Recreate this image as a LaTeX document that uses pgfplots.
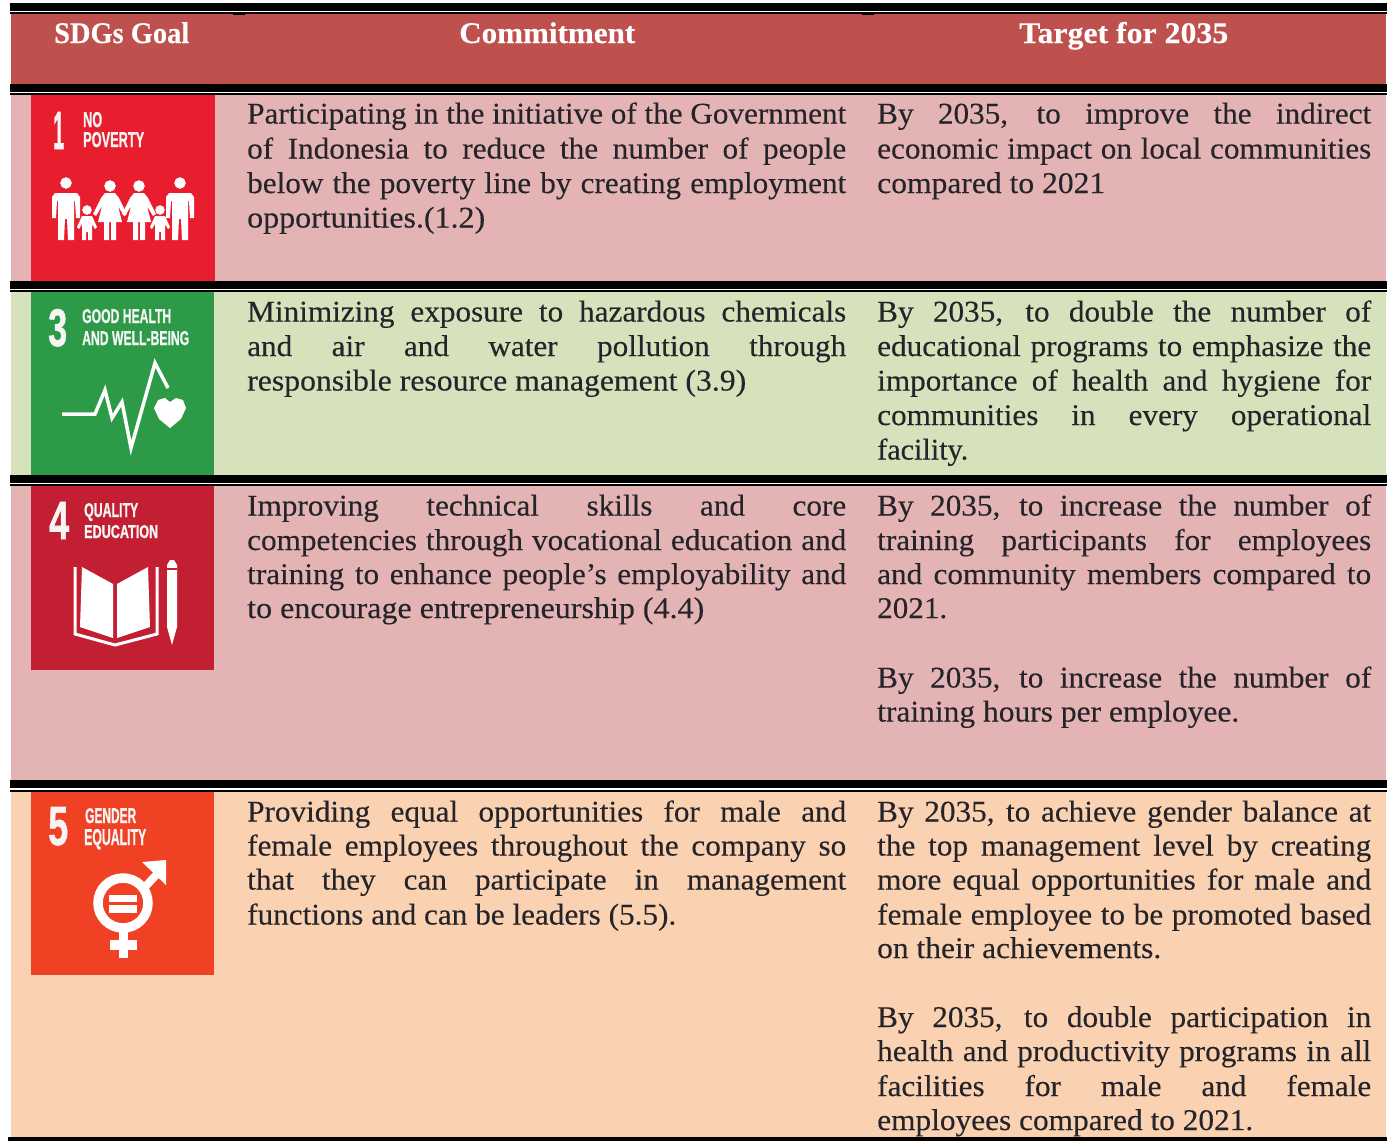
\documentclass[border=0pt]{standalone}
\usepackage{graphicx}
\usepackage{fontspec}
\setmainfont[FakeStretch=1.04,FakeBold=0.2]{Liberation Serif}
\newfontfamily\iconfont[FakeBold=1.2]{Liberation Sans}
\usepackage{pgfplots}
\pgfplotsset{compat=1.18}
\definecolor{hdr}{HTML}{BE514E}
\definecolor{rowpink}{HTML}{E3B4B3}
\definecolor{rowgreen}{HTML}{D6E2BB}
\definecolor{rowpeach}{HTML}{FBD2B1}
\definecolor{icored}{HTML}{E81D2D}
\definecolor{icogreen}{HTML}{2D9A47}
\definecolor{icoedu}{HTML}{C31F33}
\definecolor{icogen}{HTML}{F04124}
\definecolor{bodytxt}{HTML}{24242A}
% rectangle through the axis
\newcommand{\R}[5]{\addplot[fill=#1,draw=none] coordinates {(#2,#3)(#4,#3)(#4,#5)(#2,#5)} --cycle;}
% justified line: x0, x1, baseline, text
\newcommand{\J}[4]{\node[anchor=base west,inner sep=0pt,text=bodytxt,font=\fontsize{30}{34}\selectfont] at (axis cs:#1,#3) {\makebox[\dimexpr#2pt-#1pt\relax][s]{#4}};}
% fitted line: x0, x1, baseline, text
\newcommand{\F}[4]{\node[anchor=base west,inner sep=0pt,text=bodytxt,font=\fontsize{30}{34}\selectfont] at (axis cs:#1,#3) {\resizebox{\dimexpr#2pt-#1pt\relax}{\height}{#4}};}
% header
\newcommand{\HD}[4]{\node[anchor=base west,inner sep=0pt,text=white,font=\fontsize{30}{34}\selectfont\bfseries] at (axis cs:#1,#3) {\resizebox{\dimexpr#2pt-#1pt\relax}{\height}{#4}};}
% icon text: x0,x1,ytop,ybase,text
\newcommand{\IT}[5]{\node[anchor=base west,inner sep=0pt,text=white!92!gray] at (axis cs:#1,#4) {\resizebox{\dimexpr#2pt-#1pt\relax}{\dimexpr#4pt-#3pt\relax}{\iconfont\bfseries #5}};}
\newcommand{\Man}[1]{\addplot[fill=white,draw=none,xshift=#1pt] coordinates {(-11,193)(11,193)(14,197)(14,218)(10,218)(9,201)(8,201)(8,240)(2,240)(1,219)(-1,219)(-2,240)(-8,240)(-8,201)(-9,201)(-10,218)(-14,218)(-14,197)} --cycle;}
\newcommand{\Wom}[1]{\addplot[fill=white,draw=none,xshift=#1pt] coordinates {(-5,193)(5,193)(9,198)(17,214)(14,216)(8,206)(12,222)(6,222)(6,240)(1,240)(1,222)(-1,222)(-1,240)(-6,240)(-6,222)(-12,222)(-8,206)(-14,216)(-17,214)(-9,198)} --cycle;}
\newcommand{\Kid}[1]{\addplot[fill=white,draw=none,xshift=#1pt] coordinates {(-5,216)(5,216)(10,227)(8,229)(5,224)(5,240)(1,240)(1,232)(-1,232)(-1,240)(-5,240)(-5,224)(-8,229)(-10,227)} --cycle;}
\begin{document}
\begin{tikzpicture}
\begin{axis}[scale only axis,width=1393pt,height=1141pt,
  xmin=0,xmax=1393,ymin=0,ymax=1141,y dir=reverse,hide axis,clip=false]
% page
\R{white}{0}{0}{1393}{1141}
% fills
\R{hdr}{11}{14}{1386}{84}
\R{rowpink}{11}{95}{1386}{281}
\R{rowgreen}{11}{292}{1386}{475}
\R{rowpink}{11}{486}{1386}{780}
\R{rowpeach}{11}{792}{1386}{1137}
% rules
\R{black}{10}{3}{1387}{11}
\R{black}{10}{12}{1387}{14}
\R{black}{233}{14}{245}{15}
\R{black}{862}{14}{874}{15}
\R{black}{10}{84}{1387}{92}
\R{black}{10}{93}{1387}{95}
\R{black}{10}{281}{1387}{289}
\R{black}{10}{290}{1387}{292}
\R{black}{10}{475}{1387}{483}
\R{black}{10}{484}{1387}{486}
\R{black}{10}{780}{1387}{788}
\R{black}{10}{790}{1387}{792}
\R{black}{8}{1137}{1387}{1141}
% icon 1
\R{icored}{31}{95}{215}{281}
\IT{53}{64}{112}{149}{1}
\IT{83}{102}{112}{127}{NO}
\IT{83}{144}{132}{147}{POVERTY}
\addplot[only marks,mark=*,mark size=5.5pt,white,mark options={draw=none,fill=white}] coordinates {(66,183)(110,186)(139,186)(180,183)};
\addplot[only marks,mark=*,mark size=4.5pt,white,mark options={draw=none,fill=white}] coordinates {(87,210)(160,210)};
\Man{66}
\Kid{87}
\Wom{110}
\Wom{139}
\Kid{160}
\Man{180}
% icon 2
\R{icogreen}{31}{292}{214}{475}
\IT{48}{67}{309}{346}{3}
\IT{82}{171}{309}{323}{GOOD HEALTH}
\IT{82}{189}{331}{345}{AND WELL-BEING}
\addplot[white,line width=3.5pt,miter limit=20] coordinates {(62,414)(95,414)(105,390)(112,418)(122,402)(131,448)(155,363)(168,388)};
\addplot[fill=white,draw=none] coordinates {(154,408)(158,400)(165,398)(170,402)(176,398)(183,400)(186,408)(181,419)(170,428)(159,419)} --cycle;
% icon 3
\R{icoedu}{31}{486}{214}{670}
\IT{49}{69}{502}{539}{4}
\IT{84}{138}{503}{517}{QUALITY}
\IT{84}{158}{525}{538}{EDUCATION}
\addplot[white,line width=3pt] coordinates {(75,567)(75,634)(115,645)(157,634)(157,567)};
\addplot[fill=white,draw=none] coordinates {(82,567)(113,584)(113,638)(80,627)} --cycle;
\addplot[fill=white,draw=none] coordinates {(117,584)(148,567)(150,627)(117,638)} --cycle;
\addplot[fill=white,draw=none] coordinates {(167,565)(170,560)(174,560)(177,565)(177,627)(172,645)(167,627)} --cycle;
\R{icoedu}{167}{568}{177}{570}
% icon 4
\R{icogen}{31}{792}{214}{975}
\IT{48}{68}{807}{845}{5}
\IT{85}{136}{808}{823}{GENDER}
\IT{84}{146}{829}{845}{EQUALITY}
\addplot[only marks,mark=o,mark size=25pt,mark options={draw=white,line width=9.5pt,fill=none}] coordinates {(123,903)};
\R{white}{109}{895}{137}{902}
\R{white}{109}{905}{137}{913}
\addplot[white,line width=8pt] coordinates {(145,887)(158,873)};
\addplot[fill=white,draw=none] coordinates {(142,862)(166,860)(166,885)} --cycle;
\R{white}{119}{930}{128}{958}
\R{white}{110}{940}{137}{950}
% header
\HD{54}{189}{43}{SDGs Goal}
\HD{459}{635}{43}{Commitment}
\HD{1019}{1228}{43}{Target for 2035}
% row 1
\J{247}{846}{123.5}{Participating in the initiative of the Government}
\J{247}{846}{158.5}{of Indonesia to reduce the number of people}
\J{247}{846}{193}{below the poverty line by creating employment}
\F{247}{485}{227.5}{opportunities.(1.2)}
\J{877}{1371}{123.5}{By 2035, to improve the indirect}
\J{877}{1371}{158.5}{economic impact on local communities}
\F{877}{1105}{193}{compared to 2021}
% row 2
\J{247}{846}{321.5}{Minimizing exposure to hazardous chemicals}
\J{247}{846}{356}{and air and water pollution through}
\F{247}{746}{390.5}{responsible resource management (3.9)}
\J{877}{1371}{321.5}{By 2035, to double the number of}
\J{877}{1371}{356}{educational programs to emphasize the}
\J{877}{1371}{390.5}{importance of health and hygiene for}
\J{877}{1371}{425}{communities in every operational}
\F{877}{968}{459.5}{facility.}
% row 3
\J{247}{846}{515.5}{Improving technical skills and core}
\J{247}{846}{550}{competencies through vocational education and}
\J{247}{846}{584}{training to enhance people's employability and}
\F{247}{704}{618}{to encourage entrepreneurship (4.4)}
\J{877}{1371}{515.5}{By 2035, to increase the number of}
\J{877}{1371}{550}{training participants for employees}
\J{877}{1371}{584}{and community members compared to}
\F{877}{947}{618}{2021.}
\J{877}{1371}{687.5}{By 2035, to increase the number of}
\F{877}{1239}{721.5}{training hours per employee.}
% row 4
\J{247}{846}{821.5}{Providing equal opportunities for male and}
\J{247}{846}{855.5}{female employees throughout the company so}
\J{247}{846}{889.5}{that they can participate in management}
\F{247}{676}{924.5}{functions and can be leaders (5.5).}
\J{877}{1371}{821.5}{By 2035, to achieve gender balance at}
\J{877}{1371}{855.5}{the top management level by creating}
\J{877}{1371}{889.5}{more equal opportunities for male and}
\J{877}{1371}{924.5}{female employee to be promoted based}
\F{877}{1161}{958}{on their achievements.}
\J{877}{1371}{1027}{By 2035, to double participation in}
\J{877}{1371}{1061}{health and productivity programs in all}
\J{877}{1371}{1096}{facilities for male and female}
\F{877}{1253}{1130}{employees compared to 2021.}
\end{axis}
\end{tikzpicture}
\end{document}
